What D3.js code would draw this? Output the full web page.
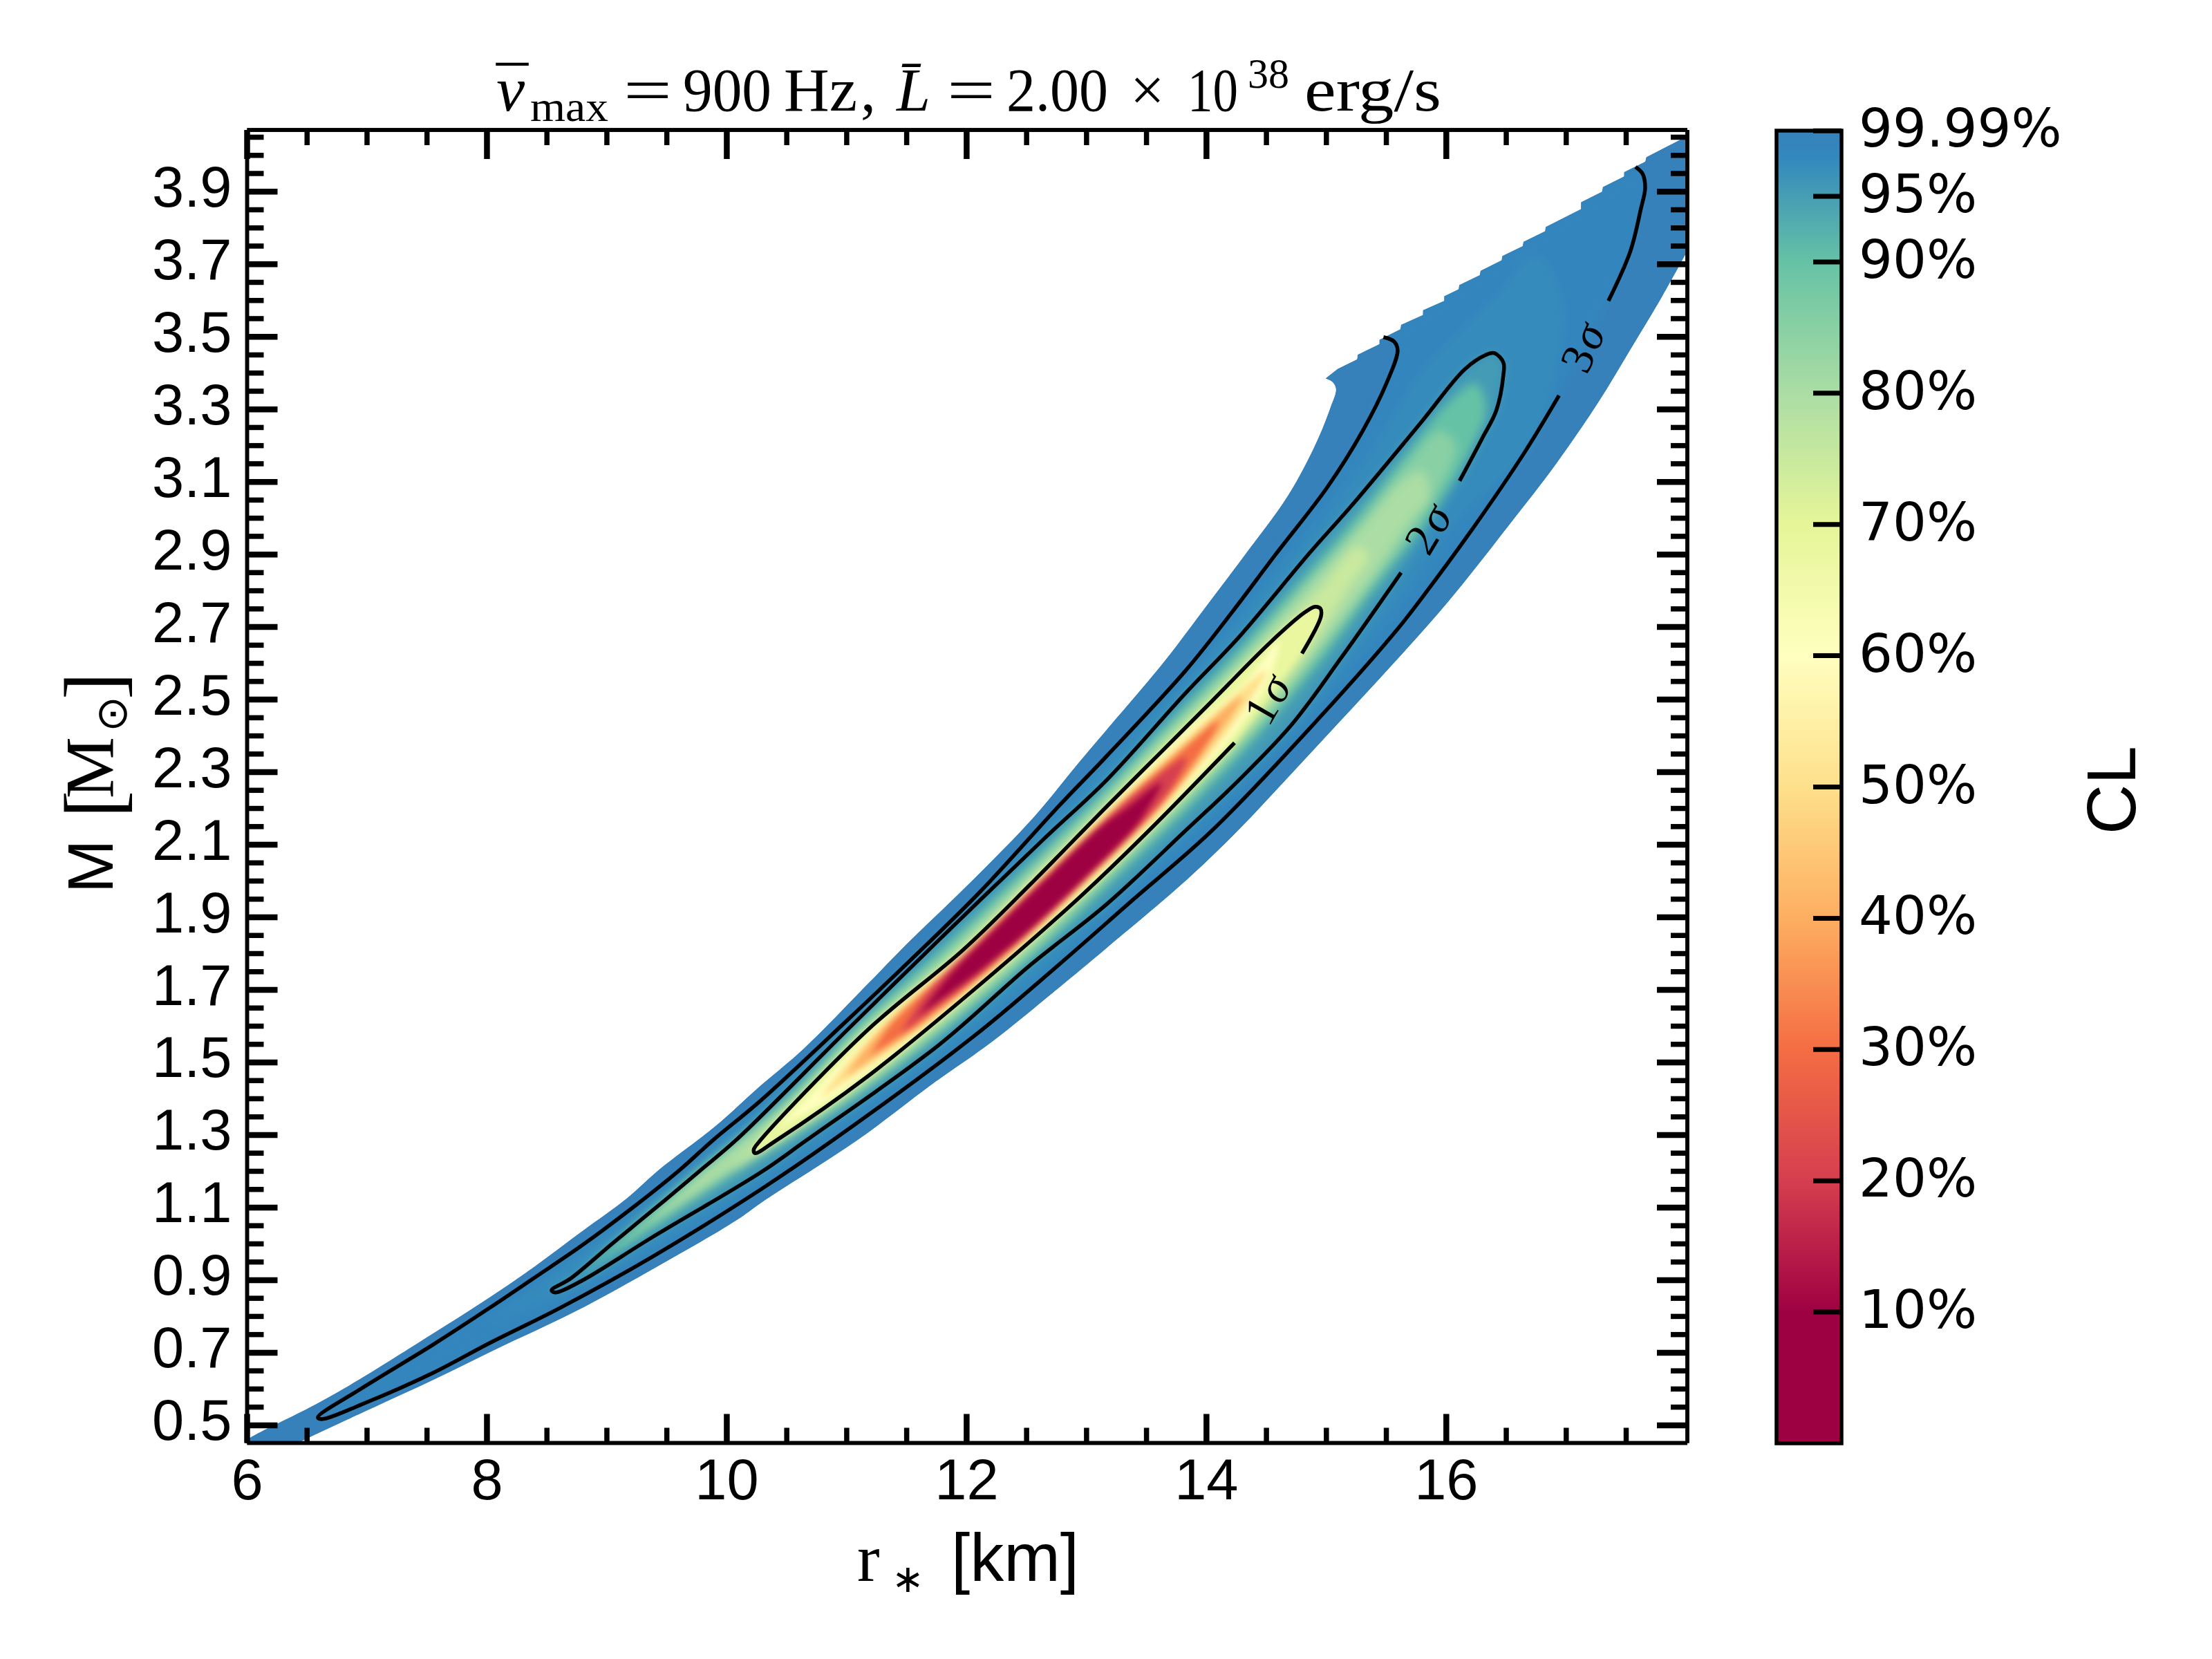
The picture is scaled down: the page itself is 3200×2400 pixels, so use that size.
<!DOCTYPE html>
<html>
<head>
<meta charset="utf-8">
<script src="https://cdn.jsdelivr.net/npm/d3@7"></script>
<style>
  html, body { margin: 0; padding: 0; background: #fff; }
</style>
</head>
<body>
<div id="chart"></div>
<script>
// ---- values: [r in km, M in solar masses] ----
const xTickValues = [6, 8, 10, 12, 14, 16];
const xMinorValues = [6.5, 7, 7.5, 8.5, 9, 9.5, 10.5, 11, 11.5, 12.5, 13, 13.5, 14.5, 15, 15.5, 16.5, 17, 17.5];
const yTickValues = [0.5, 0.7, 0.9, 1.1, 1.3, 1.5, 1.7, 1.9, 2.1, 2.3, 2.5, 2.7, 2.9, 3.1, 3.3, 3.5, 3.7, 3.9];
const cbTickValues = [10, 20, 30, 40, 50, 60, 70, 80, 90, 95, 99.99];
const cbTickLabels = ["10%", "20%", "30%", "40%", "50%", "60%", "70%", "80%", "90%", "95%", "99.99%"];

// colour ramp of the bar, CL value -> colour
const clStops = [0, 10, 20, 30, 40, 50, 60, 70, 80, 90, 98, 100];
const clColors = ["#9e0142", "#9e0142", "#d53e4f", "#f46d43", "#fdae61", "#fee08b", "#ffffbf", "#e6f598", "#abdda4", "#66c2a5", "#3288bd", "#3781bb"];

// outer edge of the filled region: upper side, the stepped top, lower side
const outerUpper = [[5.9,0.43],[5.98,0.455],[6.024,0.466],[6.554,0.555],[6.907,0.621],[7.554,0.754],[7.995,0.847],[8.406,0.94],[8.789,1.034],
  [9.171,1.127],[9.436,1.205],[9.906,1.325],[10.259,1.43],[10.647,1.54],[11.176,1.717],[11.529,1.836],[12.059,2.006],[12.558,2.176],
  [12.941,2.329],[13.164,2.416],[13.649,2.606],[14.0,2.759],[14.333,2.905],[14.682,3.064],[14.917,3.21],[15.035,3.307],[15.079,3.356],
  [15.05,3.375],[14.991,3.385]];
const outerSteps = [[15.094,3.412],[15.255,3.438],[15.261,3.451],[15.441,3.48],[15.441,3.492],[15.617,3.521],[15.623,3.533],
  [15.805,3.56],[15.805,3.573],[15.982,3.599],[15.982,3.612],[16.102,3.631],[16.108,3.643],[16.279,3.67],[16.285,3.682],[16.461,3.711],
  [16.467,3.723],[16.637,3.75],[16.643,3.762],[16.823,3.791],[16.829,3.803],[17.123,3.852],[17.123,3.871],[17.299,3.9],[17.305,3.913],
  [17.482,3.942],[17.482,3.954],[17.658,3.983],[17.667,3.995],[17.843,4.025],[18.05,4.06]];
const outerLower = [[18.05,3.76],[17.799,3.61],[17.564,3.48],[17.27,3.32],[16.917,3.15],[16.534,2.985],[16.03,2.775],[15.59,2.61],[15.149,2.452],
  [14.708,2.295],[14.267,2.14],[13.826,2.0],[13.164,1.814],[12.764,1.704],[12.206,1.555],[11.735,1.445],[11.088,1.285],[10.283,1.112],
  [10.083,1.065],[9.436,0.94],[8.73,0.812],[8.112,0.715],[7.554,0.625],[7.024,0.544],[6.466,0.458],[6.3,0.43]];

// the labelled contours (open, they stop at the label gaps)
const sigma3Main = [[16.94,3.338],[16.652,3.181],[16.211,2.967],[15.8,2.782],[15.59,2.693],[14.928,2.445],[14.046,2.139],[13.382,1.947],
  [12.764,1.768],[12.059,1.572],[10.882,1.285],[10.283,1.15],[9.377,0.964],[8.612,0.824],[8.024,0.727],[7.554,0.645],[6.995,0.563],
  [6.62,0.517],[6.59,0.522],[6.936,0.598],[7.554,0.723],[8.024,0.824],[8.406,0.909],[8.789,0.995],[9.2,1.096],[9.612,1.205],[9.882,1.285],
  [10.283,1.395],[11.0,1.615],[11.529,1.781],[12.117,1.972],[12.764,2.205],[13.164,2.343],[13.826,2.58],[14.211,2.74],[14.576,2.9],
  [15.005,3.084],[15.3,3.239],[15.505,3.375],[15.594,3.463],[15.564,3.487],[15.476,3.499]];
const sigma3Tail = [[17.352,3.599],[17.534,3.735],[17.622,3.852],[17.658,3.91],[17.637,3.949],[17.578,3.968]];
const sigma2 = [[15.623,2.85],[15.123,2.615],[14.708,2.43],[14.267,2.277],[13.826,2.139],[13.164,1.935],[12.529,1.768],[11.764,1.547],
  [10.662,1.285],[10.283,1.197],[9.377,1.018],[8.789,0.898],[8.568,0.866],[8.539,0.872],[8.7,0.905],[9.053,1.003],[9.494,1.123],[9.788,1.205],
  [10.074,1.285],[10.99,1.585],[11.764,1.836],[12.647,2.117],[13.164,2.277],[13.826,2.518],[14.267,2.671],[14.862,2.905],[15.211,3.035],
  [15.799,3.268],[16.152,3.41],[16.329,3.45],[16.402,3.455],[16.476,3.429],[16.476,3.395],[16.417,3.297],[16.299,3.22],[16.111,3.103]];
const sigma1 = [[14.234,2.381],[13.529,2.142],[12.941,1.955],[12.059,1.7],[11.176,1.462],[10.412,1.285],[10.235,1.25],[10.225,1.26],
  [10.279,1.285],[11.176,1.59],[11.97,1.81],[12.529,1.99],[13.164,2.204],[13.605,2.35],[14.046,2.496],[14.53,2.657],[14.818,2.74],
  [14.906,2.756],[14.95,2.751],[14.955,2.73],[14.796,2.627]];

// unlabelled levels of the shading, estimated from the colours in the picture
const level975 = [[8.0,0.78],[8.5,0.9],[8.88,1.0],[9.68,1.2],[10.36,1.4],[10.99,1.6],[11.61,1.8],[12.24,2.0],[12.81,2.2],[13.37,2.4],[13.95,2.6],
  [14.46,2.8],[14.96,3.0],[15.42,3.2],[15.8,3.4],[16.4,3.6],[16.75,3.72],[16.95,3.6],[16.9,3.4],[16.7,3.2],[16.1,3.0],[15.67,2.8],[15.2,2.6],
  [14.68,2.4],[14.08,2.2],[13.42,2.0],[12.8,1.8],[12.08,1.6],[11.25,1.4],[10.4,1.2],[9.43,1.0],[8.85,0.9]];
const level90 = [[8.78,0.92],[9.05,1.0],[9.74,1.2],[10.48,1.4],[11.07,1.6],[11.75,1.8],[12.38,2.0],[12.99,2.2],[13.57,2.4],[14.16,2.6],[14.71,2.8],
  [15.24,3.0],[15.72,3.2],[16.02,3.32],[16.25,3.37],[16.33,3.3],[16.22,3.2],[15.86,3.0],[15.39,2.8],[14.94,2.6],[14.43,2.4],[13.85,2.2],[13.22,2.0],
  [12.59,1.8],[11.87,1.6],[11.06,1.4],[10.1,1.2],[9.19,1.0]];
const level85 = [[9.05,0.985],[9.78,1.2],[10.515,1.4],[11.115,1.6],[11.805,1.8],[12.43,2.0],[13.04,2.2],[13.62,2.4],[14.215,2.6],[14.765,2.8],[15.3,3.0],
  [15.67,3.15],[15.95,3.24],[16.08,3.2],[15.79,3.0],[15.345,2.8],[14.885,2.6],[14.38,2.4],[13.8,2.2],[13.17,2.0],[12.535,1.8],[11.825,1.6],[11.025,1.4],
  [10.065,1.2]];
const level80 = [[9.32,1.05],[9.81,1.2],[10.55,1.4],[11.16,1.6],[11.86,1.8],[12.475,2.0],[13.09,2.2],[13.67,2.4],[14.27,2.6],[14.82,2.8],[15.36,3.0],
  [15.62,3.1],[15.8,3.13],[15.86,3.05],[15.72,3.0],[15.3,2.8],[14.83,2.6],[14.33,2.4],[13.75,2.2],[13.125,2.0],[12.48,1.8],[11.78,1.6],[10.99,1.4],
  [10.03,1.2]];
const level75 = [[10.05,1.2],[10.59,1.4],[11.195,1.6],[11.895,1.8],[12.51,2.0],[13.125,2.2],[13.7,2.4],[14.31,2.6],[14.93,2.8],[15.25,2.92],[15.35,2.9],
  [15.17,2.8],[14.79,2.6],[14.3,2.4],[13.715,2.2],[13.09,2.0],[12.445,1.8],[11.745,1.6],[10.95,1.4]];
const level60 = [[10.42,1.32],[10.67,1.4],[11.255,1.6],[11.95,1.8],[12.55,2.0],[13.18,2.2],[13.79,2.4],[14.33,2.55],[14.6,2.66],[14.51,2.55],
  [14.21,2.4],[13.66,2.2],[13.05,2.0],[12.39,1.8],[11.685,1.6],[10.87,1.4]];
const level50 = [[10.77,1.4],[11.01,1.5],[11.285,1.6],[11.96,1.8],[12.575,2.0],[13.205,2.2],[13.85,2.4],[14.195,2.5],[14.5,2.58],[14.365,2.5],[14.15,2.4],
  [13.635,2.2],[13.025,2.0],[12.38,1.8],[11.655,1.6],[11.23,1.5]];
const level40 = [[10.98,1.46],[11.315,1.6],[11.98,1.8],[12.595,2.0],[13.225,2.2],[13.73,2.35],[14.3,2.51],[13.98,2.35],[13.615,2.2],[13.005,2.0],
  [12.36,1.8],[11.625,1.6]];
const level30 = [[11.2,1.52],[11.36,1.6],[11.83,1.75],[12.615,2.0],[13.245,2.2],[13.66,2.32],[14.1,2.44],[13.88,2.32],[13.595,2.2],[12.985,2.0],
  [12.16,1.75],[11.58,1.6]];
const level20 = [[11.45,1.58],[11.69,1.7],[12.155,1.85],[12.62,2.0],[13.095,2.15],[13.44,2.25],[13.83,2.34],[13.69,2.25],[13.435,2.15],[12.98,2.0],
  [12.495,1.85],[11.95,1.7]];
const level10 = [[11.6,1.63],[11.885,1.75],[12.18,1.85],[12.64,2.0],[13.12,2.15],[13.33,2.2],[13.62,2.27],[13.51,2.2],[13.41,2.15],[12.96,2.0],
  [12.47,1.85],[12.105,1.75]];

const contourLabels = [["1", "σ", 14.51, 2.50, -60], ["2", "σ", 15.85, 2.97, -59], ["3", "σ", 17.14, 3.47, -66]];

// ---- layout ----
const W = 3200, H = 2400;
const plot = {left: 357.5, right: 2441, top: 188, bottom: 2087.5};
const bar = {left: 2570, right: 2664, top: 189, bottom: 2088};
const sansFont = "'Liberation Sans', Arial, sans-serif";
const serifFont = "'Liberation Serif', serif";
const dejaFont = "'DejaVu Sans', sans-serif";

const svg = d3.select("#chart").append("svg")
    .attr("width", W)
    .attr("height", H)
    .style("display", "block")
    .style("background", "#fff");

const x = d3.scaleLinear().domain([6, 18.01]).range([plot.left, plot.right]);
const y = d3.scaleLinear().domain([0.4512, 4.07]).range([plot.bottom, plot.top]);
const clColor = d3.scaleLinear().domain(clStops).range(clColors).interpolate(d3.interpolateRgb);

const straight = d3.line().x(d => x(d[0])).y(d => y(d[1]));
const smooth = d3.line().x(d => x(d[0])).y(d => y(d[1])).curve(d3.curveCatmullRom.alpha(0.5));

const outerPath = smooth(outerUpper)
    + straight(outerSteps).replace("M", "L")
    + smooth(outerLower).replace("M", "L") + "Z";

const defs = svg.append("defs");
defs.append("clipPath").attr("id", "plot-clip").append("rect")
    .attr("x", plot.left).attr("y", plot.top)
    .attr("width", plot.right - plot.left).attr("height", plot.bottom - plot.top);
defs.append("clipPath").attr("id", "edge-clip").append("path").attr("d", outerPath);

function addBlur(id, amount) {
  defs.append("filter").attr("id", id)
      .attr("filterUnits", "userSpaceOnUse")
      .attr("x", 0).attr("y", 0).attr("width", W).attr("height", H)
      .attr("color-interpolation-filters", "sRGB")
      .append("feGaussianBlur").attr("stdDeviation", amount);
}
addBlur("soften-wide", 7);
addBlur("soften-tight", 4);

// ---- shading: nested levels, outermost first ----
const outerLevels = [
  {cl: 98.5, pts: sigma3Tail.slice().reverse().concat(sigma3Main)},
  {cl: 97.5, pts: level975},
  {cl: 95.4, pts: sigma2},
  {cl: 90, pts: level90},
  {cl: 85, pts: level85},
  {cl: 80, pts: level80},
  {cl: 75, pts: level75}
];
const innerLevels = [
  {cl: 68.3, pts: sigma1},
  {cl: 60, pts: level60},
  {cl: 50, pts: level50},
  {cl: 40, pts: level40},
  {cl: 30, pts: level30},
  {cl: 20, pts: level20},
  {cl: 10, pts: level10}
];

const field = svg.append("g").attr("clip-path", "url(#plot-clip)")
    .append("g").attr("clip-path", "url(#edge-clip)");

field.append("path")
    .attr("d", outerPath)
    .attr("fill", clColor(100));

function drawLevels(list, filterId) {
  field.append("g").attr("filter", `url(#${filterId})`)
      .selectAll("path")
      .data(list)
      .enter().append("path")
      .attr("d", d => smooth(d.pts) + "Z")
      .attr("fill", d => clColor(d.cl));
}
drawLevels(outerLevels, "soften-wide");
drawLevels(innerLevels, "soften-tight");

// ---- contour lines and their labels ----
svg.append("g").attr("clip-path", "url(#plot-clip)")
    .selectAll("path")
    .data([sigma3Main, sigma3Tail, sigma2, sigma1])
    .enter().append("path")
    .attr("d", smooth)
    .attr("fill", "none")
    .attr("stroke", "#000")
    .attr("stroke-width", 5.5);

const labelText = svg.append("g").selectAll("text")
    .data(contourLabels)
    .enter().append("text")
    .attr("transform", d => `translate(${x(d[2])},${y(d[3])}) rotate(${d[4]})`)
    .attr("text-anchor", "middle")
    .attr("dy", "0.33em")
    .attr("font-family", serifFont)
    .attr("font-size", 66)
    .attr("fill", "#000");
labelText.append("tspan").text(d => d[0]);
labelText.append("tspan").attr("dx", 4).attr("font-style", "italic").text(d => d[1]);

// ---- axes, ticks point inwards on all four sides ----
function styleAxis(g, width) {
  g.select(".domain").attr("stroke", "#000").attr("stroke-width", 5.5);
  g.selectAll(".tick line").attr("stroke", "#000").attr("stroke-width", width);
}

function addAxis(axisFn, scale, values, len, width, transform) {
  const g = svg.append("g")
      .attr("transform", transform)
      .call(axisFn(scale).tickValues(values).tickSizeInner(len).tickSizeOuter(0).tickFormat("").offset(0));
  styleAxis(g, width);
  return g;
}

const yMinorValues = d3.range(0.5, 4.06, 0.05).map(d => +d.toFixed(2))
    .filter(d => !yTickValues.includes(d));

addAxis(d3.axisBottom, x, xMinorValues, -22, 7.5, `translate(0,${plot.bottom})`);
addAxis(d3.axisTop, x, xMinorValues, -22, 7.5, `translate(0,${plot.top})`);
addAxis(d3.axisLeft, y, yMinorValues, -24, 7.5, `translate(${plot.left},0)`);
addAxis(d3.axisRight, y, yMinorValues, -24, 7.5, `translate(${plot.right},0)`);
addAxis(d3.axisTop, x, xTickValues, -42, 8.5, `translate(0,${plot.top})`);
addAxis(d3.axisRight, y, yTickValues, -44, 8.5, `translate(${plot.right},0)`);

const xAxis = svg.append("g")
    .attr("transform", `translate(0,${plot.bottom})`)
    .call(d3.axisBottom(x).tickValues(xTickValues).tickSizeInner(-42).tickSizeOuter(0).tickFormat(d3.format("d")).offset(0));
styleAxis(xAxis, 8.5);
xAxis.selectAll("text")
    .attr("y", 81).attr("dy", 0)
    .attr("font-family", sansFont).attr("font-size", 83).attr("fill", "#000");

const yAxis = svg.append("g")
    .attr("transform", `translate(${plot.left},0)`)
    .call(d3.axisLeft(y).tickValues(yTickValues).tickSizeInner(-44).tickSizeOuter(0).tickFormat(d3.format(".1f")).offset(0));
styleAxis(yAxis, 8.5);
yAxis.selectAll("text")
    .attr("x", -22).attr("dy", 21.5)
    .attr("font-family", sansFont).attr("font-size", 83).attr("fill", "#000");

// ---- title, set piece by piece ----
const titleParts = [
  {t: "ν", over: "¯", overDx: -41, x: 718, y: 160, size: 92, italic: true},
  {t: "max", x: 767, y: 175, size: 62, len: 113},
  {t: "=", x: 902, y: 160, size: 88, len: 70},
  {t: "900", x: 988, y: 160, size: 88, len: 128},
  {t: "Hz", x: 1134, y: 160, size: 88, len: 106},
  {t: ",", x: 1245, y: 160, size: 88},
  {t: "L\u0304", x: 1297, y: 160, size: 88, italic: true},
  {t: "=", x: 1370, y: 160, size: 88, len: 70},
  {t: "2.00", x: 1456, y: 160, size: 88, len: 147},
  {t: "×", x: 1635, y: 160, size: 88},
  {t: "10", x: 1718, y: 160, size: 88, len: 73},
  {t: "38", x: 1805, y: 127, size: 62, len: 60},
  {t: "erg/s", x: 1887, y: 160, size: 88, len: 198}
];

const titleText = svg.append("g").selectAll("text")
    .data(titleParts)
    .enter().append("text")
    .attr("x", d => d.x)
    .attr("y", d => d.y)
    .attr("font-family", serifFont)
    .attr("font-size", d => d.size)
    .attr("font-style", d => d.italic ? "italic" : "normal")
    .attr("textLength", d => d.len || null)
    .attr("lengthAdjust", "spacingAndGlyphs")
    .attr("fill", "#000");
titleText.append("tspan").text(d => d.t);
titleText.filter(d => d.over).append("tspan")
    .attr("dx", d => d.overDx)
    .attr("font-style", "normal")
    .text(d => d.over);

// ---- x label ----
const xLabel = svg.append("g").attr("fill", "#000");
xLabel.append("text").attr("x", 1240).attr("y", 2287).attr("font-family", serifFont).attr("font-size", 98).text("r");
xLabel.append("text").attr("x", 1290).attr("y", 2303).attr("font-family", dejaFont).attr("font-size", 56).text("∗");
xLabel.append("text").attr("x", 1376).attr("y", 2287).attr("font-family", sansFont).attr("font-size", 98).text("[km]");

// ---- y label, rotated ----
const yLabel = svg.append("g").attr("transform", "translate(163,0) rotate(-90)").attr("fill", "#000");
yLabel.append("text").attr("x", -1292).attr("y", 0).attr("font-family", sansFont).attr("font-size", 93).text("M");
yLabel.append("text").attr("x", -1183).attr("y", 12).attr("font-family", serifFont).attr("font-size", 118).text("[");
yLabel.append("text").attr("x", -1155).attr("y", 0).attr("font-family", serifFont).attr("font-size", 100).text("M");
yLabel.append("text").attr("x", -1059).attr("y", 20).attr("font-family", dejaFont).attr("font-size", 62).text("⊙");
yLabel.append("text").attr("x", -1012).attr("y", 12).attr("font-family", serifFont).attr("font-size", 118).text("]");

// ---- colour bar ----
const cb = d3.scaleLinear().domain([0, 100]).range([bar.bottom, bar.top]);
const grad = defs.append("linearGradient").attr("id", "cl-ramp")
    .attr("x1", 0).attr("x2", 0).attr("y1", 1).attr("y2", 0);
grad.selectAll("stop")
    .data(clStops)
    .enter().append("stop")
    .attr("offset", d => d / 100)
    .attr("stop-color", d => clColor(d));

svg.append("rect")
    .attr("x", bar.left).attr("y", bar.top)
    .attr("width", bar.right - bar.left).attr("height", bar.bottom - bar.top)
    .attr("fill", "url(#cl-ramp)")
    .attr("stroke", "#000")
    .attr("stroke-width", 5.5);

const cbAxis = svg.append("g")
    .attr("transform", `translate(${bar.right},0)`)
    .call(d3.axisRight(cb).tickValues(cbTickValues).tickSizeInner(-41).tickSizeOuter(0)
        .tickFormat((d, i) => cbTickLabels[i]).offset(0));
cbAxis.select(".domain").remove();
cbAxis.selectAll(".tick line").attr("stroke", "#000").attr("stroke-width", 7);
cbAxis.selectAll("text")
    .attr("x", 25).attr("dy", 23)
    .attr("font-family", dejaFont).attr("font-size", 77).attr("fill", "#000");

svg.append("text")
    .attr("transform", "translate(3089,1143) rotate(-90)")
    .attr("text-anchor", "middle")
    .attr("font-family", sansFont)
    .attr("font-size", 100)
    .attr("fill", "#000")
    .text("CL");
</script>
</body>
</html>
